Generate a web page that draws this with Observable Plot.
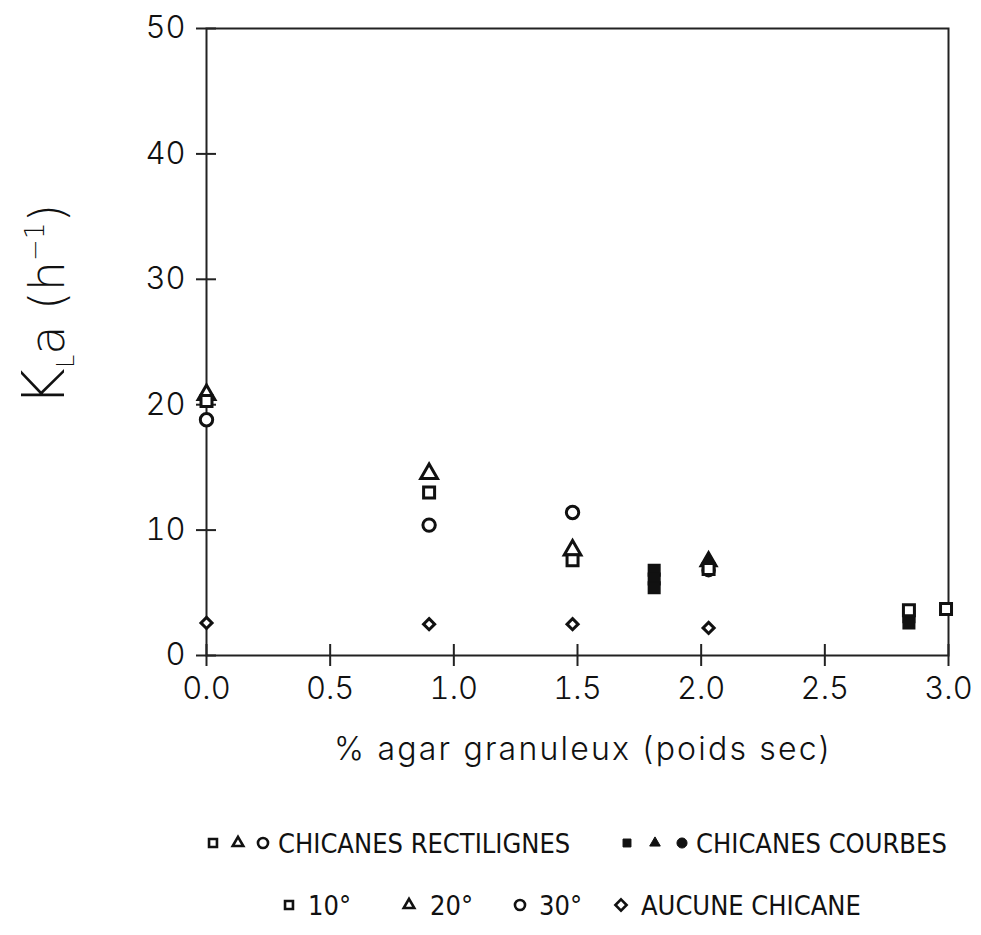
<!DOCTYPE html>
<html>
<head>
<meta charset="utf-8">
<script src="https://cdn.jsdelivr.net/npm/d3@7"></script>
<script src="https://cdn.jsdelivr.net/npm/@observablehq/plot@0.6"></script>
<style>
  body { margin: 0; background: #fff; }
  #chart { width: 981px; }
  #chart svg { display: block; }
</style>
</head>
<body>
<div id="chart"></div>
<script>
// Axis ticks
const agarTicks = [0, 0.5, 1, 1.5, 2, 2.5, 3];
const klaTicks = [0, 10, 20, 30, 40, 50];

// Chicanes rectilignes (open symbols): 10°, 20°, 30°
const rect10X = [0.0, 0.9, 1.48, 2.03, 2.84, 2.99];
const rect10Y = [20.3, 13.0, 7.6, 6.9, 3.6, 3.7];
const rect20X = [0.0, 0.9, 1.48];
const rect20Y = [20.8, 14.5, 8.4];
const rect30X = [0.0, 0.9, 1.48];
const rect30Y = [18.8, 10.4, 11.4];

// Chicanes courbes (filled symbols): 10°, 20°, 30°
const curv10X = [1.81, 1.81, 1.81, 2.84, 2.84];
const curv10Y = [6.8, 6.1, 5.4, 3.1, 2.6];
const curv20X = [2.03];
const curv20Y = [7.5];
const curv30X = [2.03];
const curv30Y = [6.8];

// Aucune chicane
const noneX = [0.0, 0.9, 1.48, 2.03];
const noneY = [2.6, 2.5, 2.5, 2.2];

const pts = (xs, ys) => xs.map((x, i) => ({x, y: ys[i]}));

const ink = "#111";
const font = "'DejaVu Sans', sans-serif";
const tickFont = "Inter, 'DejaVu Sans', sans-serif";
const legendFont = "'Liberation Sans Narrow', 'DejaVu Sans Condensed', sans-serif";

const filled = (xs, ys, symbol) =>
  Plot.dot(pts(xs, ys), {x: "x", y: "y", symbol, r: 6.5, fill: ink, stroke: ink, strokeWidth: 1.5});
const open = (xs, ys, symbol, r = 6.2) =>
  Plot.dot(pts(xs, ys), {x: "x", y: "y", symbol, r, fill: "white", stroke: ink, strokeWidth: 3});

const plot = Plot.plot({
  width: 981,
  height: 780,
  marginLeft: 206,
  marginRight: 33,
  marginTop: 28,
  marginBottom: 125,
  style: {fontFamily: font, color: ink, background: "white"},
  x: {domain: [0, 3]},
  y: {domain: [0, 50]},
  marks: [
    Plot.frame({stroke: "#222", strokeWidth: 2}),
    // crossing tick marks
    Plot.axisX({ticks: agarTicks, tickSize: 22, dy: -11, tickFormat: () => "", label: null, stroke: "#222", strokeWidth: 2}),
    Plot.axisY({ticks: klaTicks, tickSize: 20, dx: 10, tickFormat: () => "", label: null, stroke: "#222", strokeWidth: 2}),
    // tick labels
    Plot.axisX({ticks: agarTicks, tickSize: 0, tickPadding: 21, tickFormat: d3.format(".1f"), label: null, fontFamily: tickFont, fontWeight: 300, fontSize: 31, letterSpacing: 2, fill: "#111"}),
    Plot.axisY({ticks: klaTicks, tickSize: 0, tickPadding: 21, tickFormat: d3.format("d"), label: null, fontFamily: tickFont, fontWeight: 300, fontSize: 31, letterSpacing: 1, fill: "#111"}),
    filled(curv10X, curv10Y, "square"),
    filled(curv20X, curv20Y, "triangle"),
    filled(curv30X, curv30Y, "circle"),
    open(rect20X, rect20Y, "triangle"),
    open(rect30X, rect30Y, "circle"),
    open(rect10X, rect10Y, "square"),
    open(noneX, noneY, "diamond2", 5)
  ]
});

const svg = d3.select(plot);

// Axis titles
svg.append("text")
  .attr("x", 583).attr("y", 760)
  .attr("text-anchor", "middle")
  .attr("font-family", tickFont).attr("font-weight", 300)
  .attr("font-size", 32).attr("letter-spacing", 2.2).attr("fill", "#111")
  .text("% agar granuleux (poids sec)");

const yl = svg.append("text")
  .attr("transform", "translate(64,305) rotate(-90)")
  .attr("text-anchor", "middle")
  .attr("font-family", font).attr("font-weight", 200)
  .attr("font-size", 48).attr("fill", ink);
yl.append("tspan").attr("font-size", 58).text("K");
yl.append("tspan").attr("font-size", 24).attr("dy", 10).text("L");
yl.append("tspan").attr("dy", -10).text("a (h");
yl.append("tspan").attr("font-size", 26).attr("dy", -20).text("−1");
yl.append("tspan").attr("dy", 20).text(")");

document.getElementById("chart").appendChild(plot);

// Legend below the plot
const leg = d3.select("#chart").append("svg")
  .attr("width", 981).attr("height", 155)
  .style("display", "block");

const symbolPath = (type, size) => d3.symbol(type, size)();
const legendSymbols = [
  // [x, y, symbol, isFilled]
  [213, 63, d3.symbolSquare2, false],
  [238, 63, d3.symbolTriangle2, false],
  [263, 63, d3.symbolCircle, false],
  [627, 63, d3.symbolSquare2, true],
  [655, 63, d3.symbolTriangle2, true],
  [682, 63, d3.symbolCircle, true],
  [289, 125, d3.symbolSquare2, false],
  [409, 125, d3.symbolTriangle2, false],
  [520, 125, d3.symbolCircle, false],
  [621, 125, d3.symbolDiamond2, false]
];
leg.selectAll("path").data(legendSymbols).join("path")
  .attr("transform", d => `translate(${d[0]},${d[1]})`)
  .attr("d", d => symbolPath(d[2], 80))
  .attr("fill", d => d[3] ? ink : "white")
  .attr("stroke", ink)
  .attr("stroke-width", d => d[3] ? 1 : 2.6);

const legendTexts = [
  [278, 63, "CHICANES RECTILIGNES"],
  [696, 63, "CHICANES COURBES"],
  [308, 125, "10°"],
  [430, 125, "20°"],
  [539, 125, "30°"],
  [641, 125, "AUCUNE CHICANE"]
];
leg.selectAll("text").data(legendTexts).join("text")
  .attr("x", d => d[0]).attr("y", d => d[1])
  .attr("dy", "0.36em")
  .attr("font-family", legendFont)
  .attr("font-size", 27)
  .attr("fill", ink)
  .text(d => d[2]);
</script>
</body>
</html>
